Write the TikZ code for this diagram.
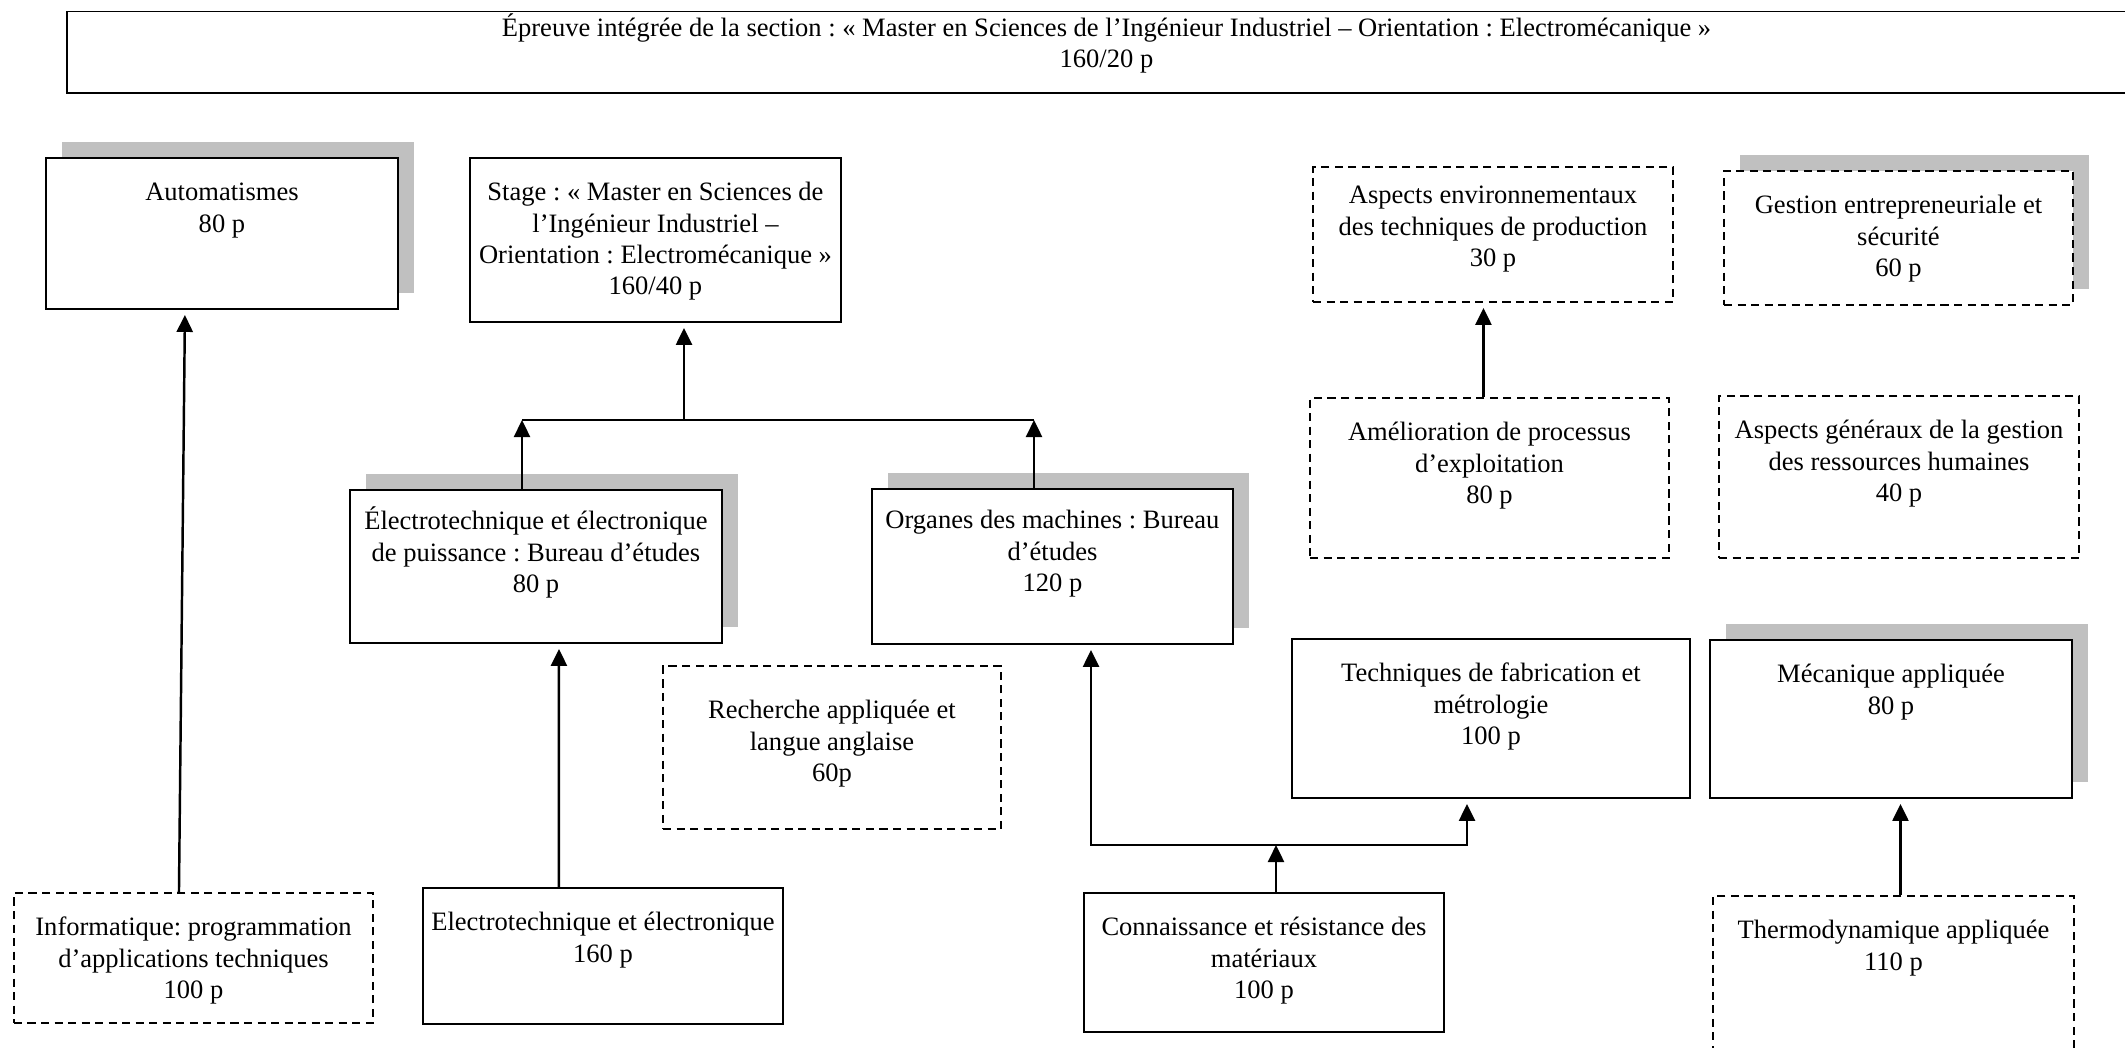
\documentclass[tikz,border=0pt]{standalone}
\usepackage{fontspec}
\setmainfont{Liberation Serif}
\usepackage{xcolor}
\usepackage{tikz}
\usetikzlibrary{arrows.meta,shadows}
\frenchspacing
\definecolor{shadowgray}{RGB}{192,192,192}
\tikzstyle{solidbox} = [rectangle, draw=black, line width=0.55pt, fill=white, inner sep=0pt, anchor=north west, font=\fontsize{7.55pt}{8.9pt}\selectfont]
\tikzstyle{dashbox} = [solidbox, dash pattern=on 2.3pt off 1.55pt]
\tikzstyle{shadowbox} = [drop shadow={shadow xshift=0.16cm, shadow yshift=0.16cm, fill=shadowgray, opacity=1}]
\tikzstyle{arrow} = [line width=0.7pt, -{Triangle[length=0.17cm, width=0.16cm]}]
\tikzstyle{link} = [line width=0.7pt]
\newcommand{\boxtext}[4][0.43cm]{\begin{minipage}[t][#3][t]{#2}\centering\rule{0pt}{#1}#4\end{minipage}}

\begin{document}
\begin{tikzpicture}
\useasboundingbox (0,0) rectangle (21.25,-10.47);

\node (epreuve) [solidbox] at (0.66,-0.105) {\boxtext[0.25cm]{20.79cm}{0.815cm}{Épreuve intégrée de la section : « Master en Sciences de l’Ingénieur Industriel – Orientation : Electromécanique »\\160/20 p}};

\node (automat) [solidbox, shadowbox] at (0.45,-1.57) {\boxtext{3.52cm}{1.51cm}{Automatismes\\80 p}};
\node (stage) [solidbox] at (4.69,-1.57) {\boxtext{3.71cm}{1.64cm}{Stage : « Master en Sciences de\\l’Ingénieur Industriel –\\Orientation : Electromécanique »\\160/40 p}};
\node (aspenv) [dashbox] at (13.12,-1.66) {\boxtext[0.37cm]{3.60cm}{1.35cm}{Aspects environnementaux\\des techniques de production\\30 p}};
\node (gestion) [dashbox, shadowbox] at (17.23,-1.70) {\boxtext{3.49cm}{1.34cm}{Gestion entrepreneuriale et\\sécurité\\60 p}};
\node (amelio) [dashbox] at (13.09,-3.97) {\boxtext{3.59cm}{1.60cm}{Amélioration de processus\\d’exploitation\\80 p}};
\node (aspgen) [dashbox] at (17.18,-3.95) {\boxtext{3.60cm}{1.62cm}{Aspects généraux de la gestion\\des ressources humaines\\40 p}};

\node (elecpuis) [solidbox, shadowbox] at (3.49,-4.89) {\boxtext[0.40cm]{3.72cm}{1.53cm}{Électrotechnique et électronique\\de puissance : Bureau d’études\\80 p}};
\node (organes) [solidbox, shadowbox] at (8.71,-4.88) {\boxtext[0.40cm]{3.61cm}{1.55cm}{Organes des machines : Bureau\\d’études\\120 p}};
\node (recherche) [dashbox] at (6.62,-6.65) {\boxtext[0.53cm]{3.38cm}{1.63cm}{Recherche appliquée et\\langue anglaise\\60p}};
\node (techfab) [solidbox] at (12.91,-6.38) {\boxtext{3.98cm}{1.59cm}{Techniques de fabrication et\\métrologie\\100 p}};
\node (mecan) [solidbox, shadowbox] at (17.09,-6.39) {\boxtext{3.62cm}{1.58cm}{Mécanique appliquée\\80 p}};

\node (informat) [dashbox] at (0.13,-8.92) {\boxtext{3.59cm}{1.30cm}{Informatique: programmation\\d’applications techniques\\100 p}};
\node (electro) [solidbox] at (4.22,-8.87) {\boxtext{3.60cm}{1.36cm}{Electrotechnique et électronique\\160 p}};
\node (connaiss) [solidbox] at (10.83,-8.92) {\boxtext{3.60cm}{1.39cm}{Connaissance et résistance des\\matériaux\\100 p}};
\node (thermo) [dashbox] at (17.12,-8.95) {\boxtext{3.61cm}{1.70cm}{Thermodynamique appliquée\\110 p}};

% junctions
\coordinate (jl) at (5.22,-4.20);
\coordinate (jm) at (6.84,-4.20);
\coordinate (jr) at (10.34,-4.20);
\coordinate (kl) at (10.91,-8.45);
\coordinate (km) at (12.76,-8.45);
\coordinate (kr) at (14.67,-8.45);

\draw [arrow, shorten >=0.05cm] ([xshift=-0.145cm]informat.north) -- ([xshift=-0.37cm]automat.south);
\draw [arrow, shorten >=0.05cm] ([xshift=-0.44cm]electro.north) -- ([xshift=0.23cm]elecpuis.south);

\draw [link] (jl) -- (jr);
\draw [arrow] (jl |- elecpuis.north) -- (jl);
\draw [arrow] (jr |- organes.north) -- (jr);
\draw [arrow, shorten >=0.05cm] (jm) -- (jm |- stage.south);

\draw [arrow] (km |- connaiss.north) -- (km);
\draw [arrow, shorten >=0.05cm] (km) -- (kl) -- (kl |- organes.south);
\draw [arrow, shorten >=0.05cm] (km) -- (kr) -- (kr |- techfab.south);

\draw [arrow, shorten >=0.05cm] ([xshift=-0.06cm]amelio.north) -- ([xshift=-0.06cm]amelio.north |- aspenv.south);
\draw [arrow, shorten >=0.05cm] ([xshift=0.07cm]thermo.north) -- ([xshift=0.07cm]thermo.north |- mecan.south);

\end{tikzpicture}
\end{document}
